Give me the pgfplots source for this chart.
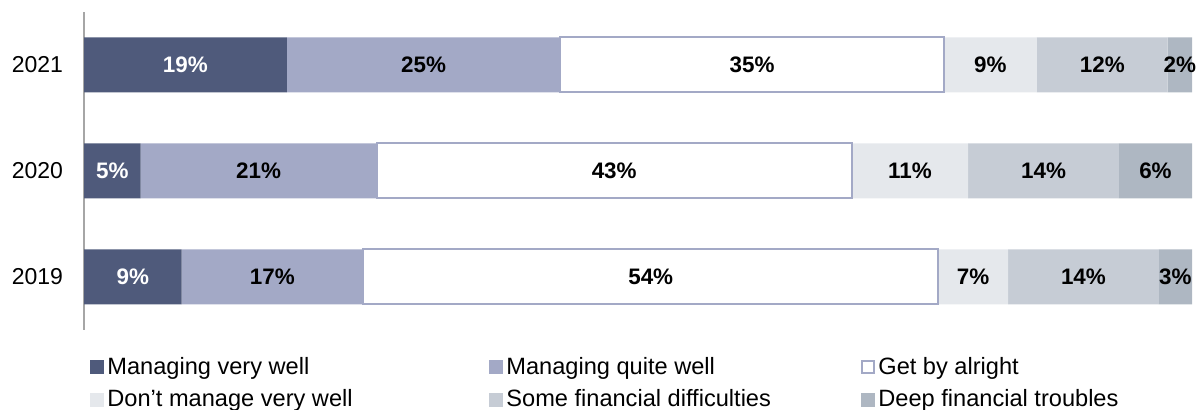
\documentclass[border=0pt]{standalone}
\usepackage{fontspec}
\setmainfont{Liberation Sans}
\usepackage{pgfplots}
\pgfplotsset{compat=1.18}
\usetikzlibrary{calc}

\definecolor{cvwell}{HTML}{4F5A7B}
\definecolor{cqwell}{HTML}{A3A9C6}
\definecolor{cdont}{HTML}{E5E8EC}
\definecolor{csome}{HTML}{C6CCD5}
\definecolor{cdeep}{HTML}{AEB7C2}
\definecolor{axisgray}{HTML}{A6A6A6}

\newcommand{\lbl}[2]{\makebox[#1][l]{#2}}

\begin{document}
\begin{tikzpicture}
\pgfplotsset{
  common/.style={
    scale only axis, width=554pt, height=159pt,
    xmin=0, xmax=100, ymin=-0.5, ymax=2.5,
  },
}
\begin{axis}[
  common,
  xbar stacked, bar width=27.5pt,
  hide x axis,
  axis y line*=left,
  y axis line style={draw=axisgray, line width=0.6pt},
  ytick={0,1,2}, yticklabels={2019,2020,2021},
  major tick length=0pt,
  yticklabel style={font=\fontsize{11.5}{13}\selectfont, xshift=-7pt},
  legend columns=3,
  legend style={
    at={(rel axis cs:0,0)}, anchor=north west, xshift=0pt, yshift=-10pt,
    draw=none, fill=none,
    font=\fontsize{11.8}{13}\selectfont,
    nodes={inner xsep=1.5pt, inner ysep=1.5pt},
    row sep=3.2pt,
    /tikz/every odd column/.append style={column sep=0pt},
  },
  legend cell align=left,
]
\coordinate (bl) at (rel axis cs:0,0);
\coordinate (tr) at (rel axis cs:1,1);

% y = 0: 2019, 1: 2020, 2: 2021 ; widths (share of 100)
\addplot[fill=cvwell, draw=none,
  legend image code/.code={\fill[cvwell] (0pt,-3.5pt) rectangle (7pt,3.5pt);}]
  coordinates {(8.8,0) (5.1,1) (18.3,2)};
\addlegendentry{\lbl{189.5pt}{Managing very well}}
\addplot[fill=cqwell, draw=none,
  legend image code/.code={\fill[cqwell] (0pt,-3.5pt) rectangle (7pt,3.5pt);}]
  coordinates {(16.4,0) (21.3,1) (24.7,2)};
\addlegendentry{\lbl{176pt}{Managing quite well}}
\addplot[fill=white, draw=cqwell, line width=1pt,
  legend image code/.code={\draw[fill=white, draw=cqwell, line width=1pt] (0.5pt,-3pt) rectangle (6.5pt,3pt);}]
  coordinates {(51.9,0) (42.9,1) (34.6,2)};
\addlegendentry{\lbl{150pt}{Get by alright}}
\addplot[fill=cdont, draw=none,
  legend image code/.code={\fill[cdont] (0pt,-3.5pt) rectangle (7pt,3.5pt);}]
  coordinates {(6.3,0) (10.5,1) (8.4,2)};
\addlegendentry{\lbl{189.5pt}{Don’t manage very well}}
\addplot[fill=csome, draw=none,
  legend image code/.code={\fill[csome] (0pt,-3.5pt) rectangle (7pt,3.5pt);}]
  coordinates {(13.6,0) (13.6,1) (11.8,2)};
\addlegendentry{\lbl{176pt}{Some financial difficulties}}
\addplot[fill=cdeep, draw=none,
  legend image code/.code={\fill[cdeep] (0pt,-3.5pt) rectangle (7pt,3.5pt);}]
  coordinates {(3.0,0) (6.6,1) (2.2,2)};
\addlegendentry{\lbl{150pt}{Deep financial troubles}}
\end{axis}

% labels, centred in each segment
\begin{axis}[
  common, hide axis,
  nodes near coords, point meta=explicit symbolic,
  every node near coord/.append style={anchor=center, font=\bfseries\fontsize{11.2}{13}\selectfont},
]
\addplot[only marks, mark=none, nodes near coords style={text=white}]
  coordinates {(4.4,0) [9\%] (2.55,1) [5\%] (9.15,2) [19\%]};
\addplot[only marks, mark=none, nodes near coords style={text=black}]
  coordinates {
    (17.0,0) [17\%] (51.15,0) [54\%] (80.25,0) [7\%] (90.2,0) [14\%] (98.5,0) [3\%]
    (15.75,1) [21\%] (47.85,1) [43\%] (74.55,1) [11\%] (86.6,1) [14\%] (96.7,1) [6\%]
    (30.65,2) [25\%] (60.3,2) [35\%] (81.8,2) [9\%] (91.9,2) [12\%] (98.9,2) [2\%]
  };
\end{axis}

\pgfresetboundingbox
\path ($(bl)+(-42pt,-40pt)$) rectangle ($(tr)+(5.5pt,6pt)$);
\end{tikzpicture}
\end{document}
